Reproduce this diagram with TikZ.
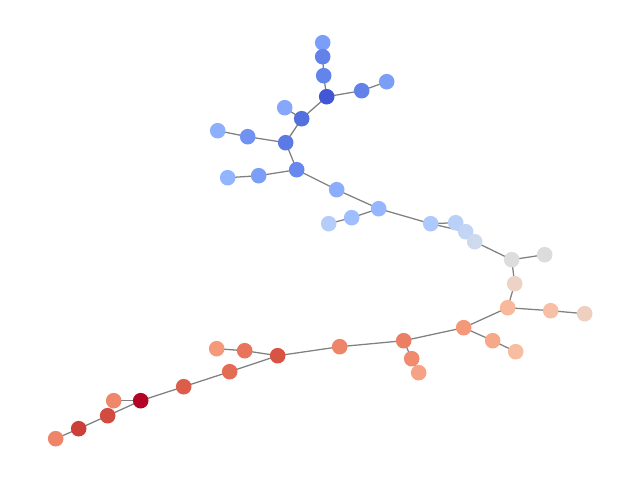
\documentclass[tikz,border=0pt]{standalone}
\usetikzlibrary{backgrounds}
\begin{document}
\begin{tikzpicture}[x=0.025cm,y=-0.025cm,
  nd/.style={circle,inner sep=0pt,minimum size=0.39cm,draw=none},
  ed/.style={draw=gray,line width=0.9pt}]
\useasboundingbox (-0.7,-0.7) rectangle (639.3,479.3);
\def\N#1#2#3#4{\definecolor{c#1}{HTML}{#4}\node[nd,fill=c#1] (#1) at (#2,#3) {};}
\N{n1}{322}{42}{7B9FF9}
\N{n2}{322}{56}{6282EA}
\N{n3}{323}{75}{6384EB}
\N{n4}{326}{96}{4257D4}
\N{n5}{361}{90}{6282EA}
\N{n6}{386}{81}{7B9FF9}
\N{n7}{301}{118}{5470DE}
\N{n8}{284}{107}{85A8FC}
\N{n9}{285}{142}{5B7AE5}
\N{n10}{247}{136}{7093F3}
\N{n11}{217}{130}{8DB0FE}
\N{n12}{296}{169}{6788EE}
\N{n13}{258}{175}{7B9FF9}
\N{n14}{227}{177}{93B5FE}
\N{n15}{336}{189}{8BADFD}
\N{n16}{378}{208}{96B7FF}
\N{n17}{351}{217}{9EBEFF}
\N{n18}{328}{223}{B5CDFA}
\N{n19}{430}{223}{ADC9FD}
\N{n20}{455}{222}{B9D0F9}
\N{n21}{465}{231}{C3D5F4}
\N{n22}{474}{241}{CDD9EC}
\N{n23}{511}{259}{DCDDDD}
\N{n24}{544}{254}{DDDCDC}
\N{n25}{514}{283}{ECD3C5}
\N{n26}{507}{307}{F7B89C}
\N{n27}{550}{310}{F6BFA6}
\N{n28}{584}{313}{EFCFBF}
\N{n29}{463}{327}{F4987A}
\N{n30}{492}{340}{F7A889}
\N{n31}{515}{351}{F6BDA2}
\N{n32}{403}{340}{EC7F63}
\N{n33}{411}{358}{F08B6E}
\N{n34}{418}{372}{F6A385}
\N{n35}{339}{346}{EE8468}
\N{n36}{277}{355}{D75445}
\N{n37}{244}{350}{E7745B}
\N{n38}{216}{348}{F49A7B}
\N{n39}{229}{371}{E36C55}
\N{n40}{183}{386}{DC5D4A}
\N{n41}{140}{400}{B40426}
\N{n42}{113}{400}{EF886B}
\N{n43}{107}{415}{D24B40}
\N{n44}{78}{428}{CC403A}
\N{n45}{55}{438}{EE8468}
\begin{scope}[on background layer]
\foreach \a/\b in {n1/n2,n2/n3,n3/n4,n4/n5,n5/n6,n4/n7,n7/n8,n7/n9,n9/n10,n10/n11,
  n9/n12,n12/n13,n13/n14,n12/n15,n15/n16,n16/n17,n17/n18,n16/n19,n19/n20,n19/n21,
  n21/n22,n22/n23,n23/n24,n23/n25,n25/n26,n26/n27,n27/n28,n26/n29,n29/n30,n30/n31,
  n29/n32,n32/n33,n33/n34,n32/n35,n35/n36,n36/n37,n37/n38,n36/n39,n39/n40,n40/n41,
  n41/n42,n41/n43,n43/n44,n44/n45}
  \draw[ed] (\a.center) -- (\b.center);
\end{scope}
\end{tikzpicture}
\end{document}
